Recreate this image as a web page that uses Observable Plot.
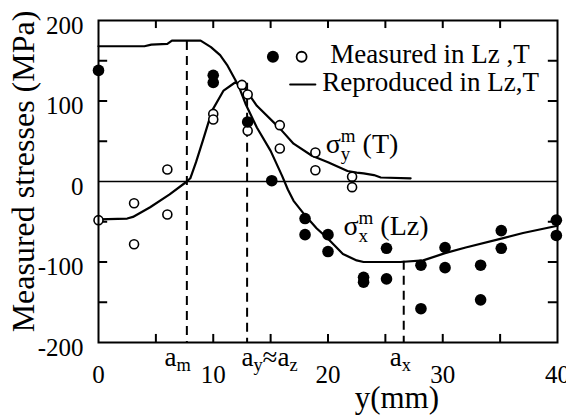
<!DOCTYPE html>
<html><head><meta charset="utf-8">
<script src="https://cdn.jsdelivr.net/npm/d3@7"></script>
<script src="https://cdn.jsdelivr.net/npm/@observablehq/plot@0.6"></script>
<style>
body{margin:0;background:#fff}
#chart svg, #chart svg text { font-family: 'Liberation Serif', 'Times New Roman', serif !important; font-variant: normal !important; }
</style>
</head><body><div id="chart"></div>
<script>
// ---- data ----
const xTickLabels = [0, 10, 20, 30, 40];
const yTickLabels = [-200, -100, 0, 100, 200];
const xMinorTicks = [5, 10, 15, 20, 25, 30, 35];
const yMinorTicks = [-150, -100, -50, 50, 100, 150];

// reproduced (fitted) curves
const lzFitX = [0, 4, 4.6, 6, 6.4, 8.9, 9.8, 10.6, 11.2, 11.7, 12.2, 12.8, 13.8, 15, 16, 16.5, 17, 18, 19, 20, 21.3, 22.5, 23.1, 26.3, 28.3, 30.2, 32, 35.1, 37, 40];
const lzFitY = [168, 168, 170, 171, 175, 175, 167, 157, 145, 132, 119, 97, 67, 38, 7, -10, -24, -42, -58, -71, -90, -98, -100, -100, -98, -89, -82, -71, -64, -55];
const tFitX = [0, 2.5, 3, 4.5, 6.2, 7.7, 8.0, 8.5, 9.1, 9.9, 10.9, 11.9, 12.6, 13.8, 15.8, 17, 18.6, 20, 21.7, 22.5, 23.1, 24, 24.6, 27.2];
const tFitY = [-47, -46, -44, -32, -16, 0, 4, 24, 51, 88, 113, 123, 119, 94, 66, 47, 32, 24, 13, 11, 10, 8, 5, 4];

// measured points
const lzMeasX = [0, 10, 10, 13, 15.1, 18, 18, 20, 20, 23.1, 23.1, 25.1, 25.1, 28.1, 28.1, 30.2, 30.2, 33.3, 33.3, 35.1, 35.1, 39.9, 39.9];
const lzMeasY = [138, 132, 123, 74, 1, -46, -66, -66, -87, -119, -125, -83, -121, -104, -158, -82, -107, -104, -147, -61, -83, -48, -67];
const tMeasX = [0, 3.1, 3.1, 6, 6, 10, 10, 12.5, 13, 13, 15.8, 15.8, 18.9, 18.9, 22.1, 22.1];
const tMeasY = [-48, -27, -78, 15, -41, 84, 77, 120, 108, 63, 70, 41, 36, 14, 6, -7];

// characteristic depths (dashed markers)
const markX = [7.7, 12.95, 26.6];
const markTop = [174, 122, -99];
const markLabels = ["a_{m}", "a_{y}≈a_{z}", "a_{x}"];
const markLabelX = [6.9, 14.9, 26.3];

const curveLabels = ["σ^{m}_{y} (T)", "σ^{m}_{x} (Lz)"];
const curveLabelX = [19.8, 21.35];
const curveLabelY = [35, -67];

const legendTexts = ["Measured in Lz ,T", "Reproduced in Lz,T"];

// ---- chart ----
const SERIF = "'Liberation Serif', 'Times New Roman', serif";
const idx = n => d3.range(n);
const plot = Plot.plot({
  width: 566, height: 419,
  marginLeft: 98, marginRight: 9, marginTop: 20, marginBottom: 77,
  x: {domain: [0, 40], label: null},
  y: {domain: [-200, 200], label: null},
  style: {fontFamily: SERIF, background: "white", color: "black"},
  marks: [
    Plot.ruleY([0], {strokeWidth: 1.5}),
    // inward ticks
    Plot.ruleX(xMinorTicks, {x: d => d, y1: -200, y2: -190, strokeWidth: 2}),
    Plot.ruleX(xMinorTicks, {x: d => d, y1: 200, y2: 190, strokeWidth: 2}),
    Plot.ruleY(yMinorTicks, {y: d => d, x1: 0, x2: 0.8, strokeWidth: 2}),
    Plot.ruleY(yMinorTicks, {y: d => d, x1: 40, x2: 39.2, strokeWidth: 2}),
    Plot.axisX(xTickLabels, {tickSize: 0, tickPadding: 23, fontSize: 25, fontFamily: SERIF, label: null, tickFormat: d => String(d)}),
    Plot.axisY(yTickLabels, {tickSize: 0, tickPadding: 15, fontSize: 25, fontFamily: SERIF, dy: 5, label: null, tickFormat: d => String(d)}),
    // dashed characteristic lines
    Plot.ruleX(markX, {x: d => d, y1: markTop, y2: -200, strokeDasharray: "9,6", strokeWidth: 2}),
    // fitted curves
    Plot.line(idx(lzFitX.length), {x: lzFitX, y: lzFitY, strokeWidth: 2.2}),
    Plot.line(idx(tFitX.length), {x: tFitX, y: tFitY, strokeWidth: 2.2}),
    // measured
    Plot.dot(idx(tMeasX.length), {x: tMeasX, y: tMeasY, r: 4.5, fill: "white", stroke: "black", strokeWidth: 1.6}),
    Plot.dot(idx(lzMeasX.length), {x: lzMeasX, y: lzMeasY, r: 5.8, fill: "black"}),
    // labels
    Plot.text(markLabels, {x: markLabelX, text: d => d, frameAnchor: "bottom", dy: 23, lineAnchor: "bottom", fontSize: 27}),
    Plot.text(curveLabels, {x: curveLabelX, y: curveLabelY, text: d => d, textAnchor: "start", lineAnchor: "bottom", fontSize: 28}),
    Plot.text(["y(mm)"], {x: 26, frameAnchor: "bottom", dy: 65, lineAnchor: "bottom", fontSize: 31}),
    Plot.text(["Measured stresses (MPa)"], {frameAnchor: "left", textAnchor: "middle", lineAnchor: "middle", rotate: -90, dx: -75, dy: -10, fontSize: 32}),
    // legend
    Plot.dot([0], {x: [15.2], y: [155], r: 6, fill: "black"}),
    Plot.dot([0], {x: [17.7], y: [155], r: 5, fill: "white", stroke: "black", strokeWidth: 1.8}),
    Plot.line([0, 1], {x: [16.7, 18.9], y: [120.5, 120.5], strokeWidth: 2}),
    Plot.text(legendTexts, {x: [20.2, 19.5], y: [146.6, 113], text: d => d, textAnchor: "start", lineAnchor: "bottom", fontSize: 27}),
    Plot.frame({strokeWidth: 2})
  ]
});
document.getElementById("chart").append(plot);

// render _{sub} and ^{sup} markup as real tspans (stacked when ^ is followed by _)
function richify(svg) {
  const NS = "http://www.w3.org/2000/svg";
  svg.querySelectorAll("text").forEach(el => {
    const s = el.textContent;
    if (!/[_^]\{/.test(s)) return;
    const base = parseFloat(getComputedStyle(el).fontSize) || 16;
    while (el.firstChild) el.removeChild(el.firstChild);
    const re = /([_^])\{([^}]*)\}|([^_^]+)/g;
    let m, shift = 0, lastSup = null, pendingDx = 0;
    while ((m = re.exec(s))) {
      const t = document.createElementNS(NS, "tspan");
      let target = 0;
      if (m[3] !== undefined) { t.textContent = m[3]; t.setAttribute("xml:space", "preserve"); }
      else {
        t.textContent = m[2];
        t.setAttribute("font-size", (base * 0.68).toFixed(1));
        target = m[1] === "^" ? -0.40 * base : 0.22 * base;
      }
      t.setAttribute("dy", (target - shift).toFixed(1));
      shift = target;
      el.appendChild(t);
      if (pendingDx > 0) { t.setAttribute("dx", pendingDx.toFixed(1)); pendingDx = 0; }
      if (m[1] === "_" && lastSup) {
        const supW = lastSup.getComputedTextLength();
        t.setAttribute("dx", (-supW).toFixed(1));
        const subW = t.getComputedTextLength();
        pendingDx = Math.max(0, supW - subW);
      }
      lastSup = m[1] === "^" ? t : null;
    }
  });
}
richify(plot);
</script>
</body></html>
